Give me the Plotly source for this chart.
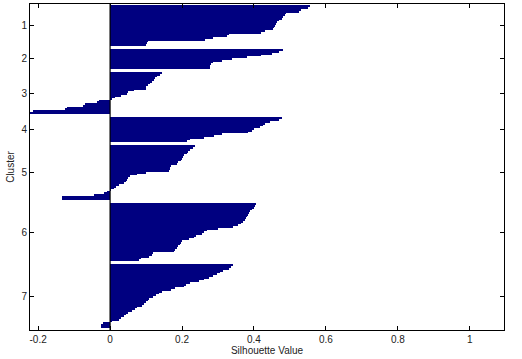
import plotly.graph_objects as go

# ---- data ----
cluster_labels = ["1", "2", "3", "4", "5", "6", "7"]

cluster1 = [0.555, 0.55, 0.53, 0.525, 0.49, 0.487, 0.48, 0.478, 0.47, 0.464, 0.46, 0.459,
            0.455, 0.452, 0.43, 0.42, 0.33, 0.325, 0.287, 0.265, 0.105, 0.103, 0.1]
cluster2 = [0.48, 0.47, 0.45, 0.42, 0.38, 0.34, 0.31, 0.285, 0.28, 0.279, 0.278]
cluster3 = [0.144, 0.14, 0.13, 0.125, 0.121, 0.117, 0.11, 0.105, 0.1, 0.1, 0.066, 0.05,
            0.047, 0.03, 0.015, 0.005, -0.03, -0.037, -0.07, -0.074, -0.12, -0.125,
            -0.215, -0.2226]
cluster4 = [0.478, 0.47, 0.445, 0.43, 0.425, 0.418, 0.4, 0.394, 0.384, 0.31, 0.29, 0.26,
            0.223, 0.215]
cluster5 = [0.237, 0.23, 0.223, 0.216, 0.214, 0.206, 0.204, 0.2, 0.198, 0.19, 0.185,
            0.168, 0.167, 0.166, 0.165, 0.1, 0.075, 0.056, 0.05, 0.047, 0.044, 0.04,
            0.025, 0.016, 0.01, 0.002, -0.008, -0.018, -0.046, -0.133, -0.135]
cluster6 = [0.406, 0.404, 0.4, 0.395, 0.39, 0.385, 0.382, 0.38, 0.378, 0.376, 0.37,
            0.365, 0.355, 0.343, 0.3, 0.27, 0.262, 0.255, 0.24, 0.232, 0.22, 0.2,
            0.197, 0.195, 0.19, 0.185, 0.181, 0.178, 0.12, 0.117, 0.107, 0.085, 0.08]
cluster7 = [0.341, 0.335, 0.33, 0.315, 0.306, 0.297, 0.285, 0.274, 0.26, 0.246, 0.223,
            0.21, 0.205, 0.181, 0.17, 0.144, 0.135, 0.128, 0.12, 0.107, 0.105, 0.1,
            0.095, 0.09, 0.075, 0.07, 0.06, 0.05, 0.045, 0.038, 0.03, 0.024, 0.005,
            -0.02, -0.024, -0.025]

clusters = [cluster1, cluster2, cluster3, cluster4, cluster5, cluster6, cluster7]

x_tick_vals = [-0.2, 0, 0.2, 0.4, 0.6, 0.8, 1]
x_tick_text = ["-0.2", "0", "0.2", "0.4", "0.6", "0.8", "1"]

# ---- build row positions (MATLAB-style silhouette: gap rows between clusters) ----
space = 2
xs, ys, tick_pos = [], [], []
row = 1
for vals in clusters:
    start = row
    for v in vals:
        xs.append(v)
        ys.append(row)
        row += 1
    tick_pos.append((start + row - 1) / 2.0)
    row += space
last_row = row - space - 1

fig = go.Figure()
fig.add_trace(go.Bar(
    x=xs, y=ys, orientation="h", width=1.0,
    marker=dict(color="#000080", line=dict(width=0)),
    showlegend=False, hoverinfo="x+y",
))

# vertical baseline at x = 0
fig.add_shape(type="line", xref="x", yref="paper", x0=0, x1=0, y0=0, y1=1,
              line=dict(color="black", width=1.2), layer="above")

font = dict(family="Liberation Sans, Arial, sans-serif", size=10, color="#222")

fig.update_layout(
    width=522, height=359,
    margin=dict(l=30, r=18, t=4, b=29, autoexpand=False),
    paper_bgcolor="white", plot_bgcolor="white",
    bargap=0, font=font,
)
fig.update_xaxes(
    range=[-0.2226, 1.095],
    tickvals=x_tick_vals, ticktext=x_tick_text,
    ticks="inside", ticklen=4, tickcolor="black",
    showline=True, linecolor="black", linewidth=1, mirror="ticks",
    showgrid=False, zeroline=False, automargin=False,
    title=dict(text="Silhouette Value", font=font, standoff=2),
)
fig.update_yaxes(
    range=[last_row + 1.8, 0.14 - 0.5],
    tickvals=tick_pos, ticktext=cluster_labels,
    ticks="inside", ticklen=4, tickcolor="black",
    showline=True, linecolor="black", linewidth=1, mirror="ticks",
    showgrid=False, zeroline=False, automargin=False,
    title=dict(text="Cluster", font=font, standoff=4),
)

fig.write_html("out.html",
               config={"displayModeBar": False},
               post_script="document.body.style.margin='0';document.body.style.overflow='hidden';")
